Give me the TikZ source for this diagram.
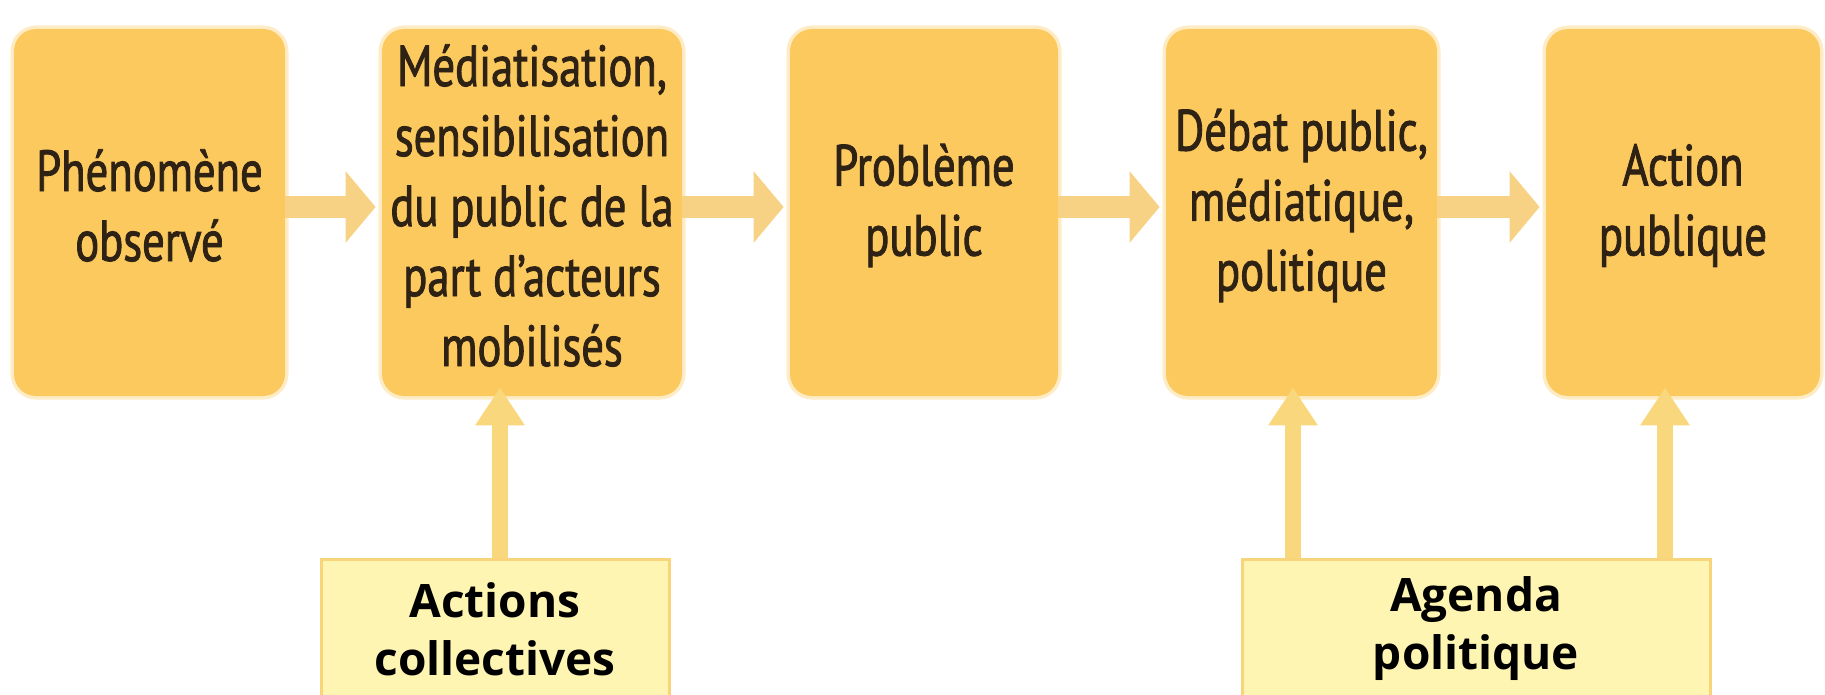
\documentclass[tikz,border=0pt]{standalone}
\usepackage{fontspec}
\usetikzlibrary{arrows.meta}
\newfontfamily\stagefont[FakeStretch=0.77,FakeBold=1.5]{PT Sans}
\newfontfamily\tagfont{Open Sans}
\definecolor{stage}{HTML}{FCC95E}
\definecolor{flow}{HTML}{F7D285}
\definecolor{lift}{HTML}{F9D77C}
\definecolor{tagfill}{HTML}{FFEF84}
\definecolor{tagpale}{HTML}{FFF5B2}
\definecolor{tagline}{HTML}{F8D57A}
\definecolor{ink}{HTML}{2E2214}
\begin{document}
\begin{tikzpicture}[x=0.5pt,y=-0.5pt,
  stagebox/.style={fill=stage, rounded corners=11pt,
    preaction={draw=stage, draw opacity=0.35, line width=3.5pt},
    minimum height=183.5pt, inner sep=0pt},
  stagetext/.style={yshift=3.5pt, inner sep=0pt, align=center, text=ink,
    font=\stagefont\fontsize{29}{35}\selectfont},
  tagbox/.style={draw=tagline, line width=1.5pt, shading=axis,
    left color=tagpale, middle color=tagfill, right color=tagpale,
    minimum height=70pt, inner sep=0pt, align=center,
    text=black, font=\tagfont\bfseries\fontsize{23}{29}\selectfont},
  flowarrow/.style={draw=flow, line width=11pt,
    -{Triangle[length=15pt,width=35pt]}, shorten >=3pt},
  liftarrow/.style={draw=lift, line width=7.8pt,
    -{Triangle[length=19pt,width=23.5pt]}, shorten >=-4.5pt}]
\useasboundingbox (0,0) rectangle (1825,695);

% stages of the process
\node[stagebox, minimum width=135.5pt,
  label={[stagetext]center:Phénomène\\observé}] (b1) at (149.5,212.5) {};
\node[stagebox, minimum width=150pt,
  label={[stagetext]center:Médiatisation,\\sensibilisation\\du public de la\\part d’acteurs\\mobilisés}] (b2) at (532,212.5) {};
\node[stagebox, minimum width=134pt,
  label={[stagetext]center:Problème\\public}] (b3) at (924,212.5) {};
\node[stagebox, minimum width=135.5pt,
  label={[stagetext]center:Débat public,\\médiatique,\\politique}] (b4) at (1301.5,212.5) {};
\node[stagebox, minimum width=137pt,
  label={[stagetext]center:Action\\publique}] (b5) at (1683,212.5) {};

% driving forces
\node[tagbox, minimum width=174pt] (act) at (495,629) {Actions\\collectives};
\node[tagbox, minimum width=234pt] (agd) at (1476,629) {Agenda\\politique};

% flow between stages
\draw[flowarrow] ([yshift=2.75pt]b1.east) -- ([yshift=2.75pt]b2.west);
\draw[flowarrow] ([yshift=2.75pt]b2.east) -- ([yshift=2.75pt]b3.west);
\draw[flowarrow] ([yshift=2.75pt]b3.east) -- ([yshift=2.75pt]b4.west);
\draw[flowarrow] ([yshift=2.75pt]b4.east) -- ([yshift=2.75pt]b5.west);

% influences from below
\coordinate (u2) at ([xshift=-16pt]b2.south);
\coordinate (u4) at ([xshift=-4.25pt]b4.south);
\coordinate (u5) at ([xshift=-9pt]b5.south);
\draw[liftarrow] (u2 |- act.north) -- (u2);
\draw[liftarrow] (u4 |- agd.north) -- (u4);
\draw[liftarrow] (u5 |- agd.north) -- (u5);
\end{tikzpicture}
\end{document}
